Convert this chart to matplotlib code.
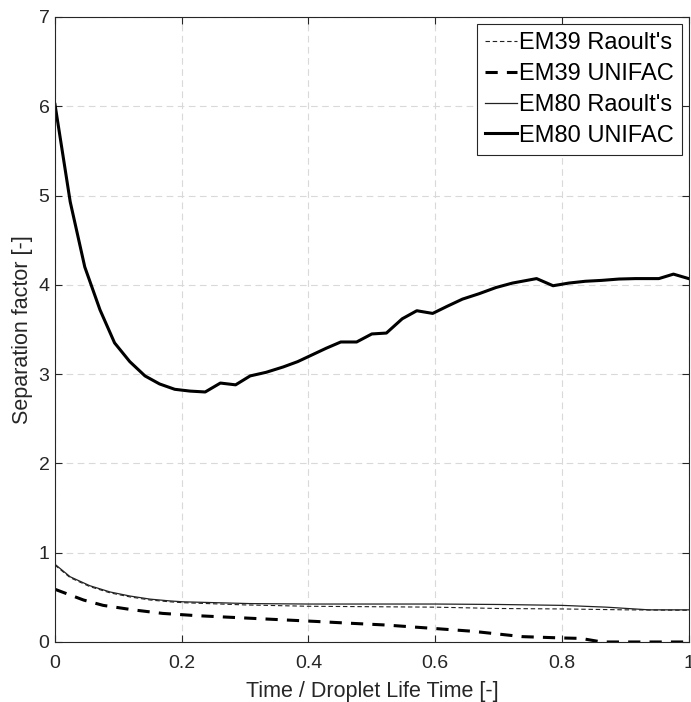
import matplotlib
matplotlib.use("Agg")
import matplotlib.pyplot as plt

plt.rcParams['font.family'] = ['Liberation Sans', 'DejaVu Sans']

# EM80 UNIFAC (thick solid)
t_em80_uni = [0.0, 0.024, 0.047, 0.071, 0.094, 0.118, 0.142, 0.165, 0.189, 0.213,
              0.237, 0.261, 0.285, 0.308, 0.333, 0.36, 0.383, 0.428, 0.451, 0.476,
              0.500, 0.523, 0.548, 0.571, 0.596, 0.619, 0.643, 0.669, 0.696, 0.722,
              0.760, 0.786, 0.811, 0.837, 0.863, 0.890, 0.916, 0.953, 0.976, 1.0]
s_em80_uni = [6.02, 4.93, 4.20, 3.72, 3.35, 3.14, 2.98, 2.89, 2.83, 2.81,
              2.80, 2.90, 2.88, 2.98, 3.02, 3.08, 3.14, 3.29, 3.36, 3.36,
              3.45, 3.46, 3.62, 3.71, 3.68, 3.76, 3.84, 3.90, 3.97, 4.02,
              4.07, 3.99, 4.02, 4.04, 4.05, 4.065, 4.07, 4.07, 4.12, 4.07]

# EM80 Raoult's (thin solid)
t_em80_rao = [0.0, 0.024, 0.055, 0.087, 0.118, 0.15, 0.181, 0.202, 0.307, 0.4,
              0.5, 0.6, 0.7, 0.8, 0.87, 0.937, 1.0]
s_em80_rao = [0.87, 0.73, 0.63, 0.56, 0.515, 0.48, 0.46, 0.45, 0.43, 0.425,
              0.425, 0.425, 0.42, 0.41, 0.39, 0.36, 0.36]

# EM39 Raoult's (thin dashed)
t_em39_rao = [0.0, 0.024, 0.055, 0.087, 0.118, 0.15, 0.181, 0.202, 0.3, 0.4,
              0.5, 0.6, 0.7, 0.8, 0.9, 1.0]
s_em39_rao = [0.86, 0.72, 0.62, 0.55, 0.505, 0.47, 0.45, 0.44, 0.415, 0.40,
              0.395, 0.39, 0.375, 0.37, 0.36, 0.355]

# EM39 UNIFAC (thick dashed)
t_em39_uni = [0.0, 0.045, 0.076, 0.123, 0.17, 0.223, 0.296, 0.412, 0.465, 0.522,
              0.595, 0.659, 0.737, 0.80, 0.83, 0.863, 0.9, 1.0]
s_em39_uni = [0.59, 0.47, 0.41, 0.36, 0.32, 0.295, 0.27, 0.23, 0.21, 0.19,
              0.153, 0.12, 0.06, 0.045, 0.04, 0.0, 0.0, 0.0]

fig = plt.figure(figsize=(6.91, 7.02), dpi=100)
ax = fig.add_axes([0.0796, 0.0855, 0.917, 0.8903])

ax.plot(t_em39_rao, s_em39_rao, color='#222222', lw=0.8, ls=(0, (4, 2.5)), label="EM39 Raoult's")
ax.plot(t_em39_uni, s_em39_uni, color='black', lw=2.2, ls=(0, (4, 3)), label="EM39 UNIFAC")
ax.plot(t_em80_rao, s_em80_rao, color='#222222', lw=0.9, label="EM80 Raoult's")
ax.plot(t_em80_uni, s_em80_uni, color='black', lw=2.2, label="EM80 UNIFAC")

ax.set_xlim(0, 1)
ax.set_ylim(0, 7)
ax.set_xticks([0, 0.2, 0.4, 0.6, 0.8, 1])
ax.set_xticklabels(['0', '0.2', '0.4', '0.6', '0.8', '1'])
ax.set_yticks(range(8))
ax.grid(True, ls=(0, (6, 4)), color='#d9d9d9', lw=0.8)
ax.tick_params(direction='in', top=True, right=True, labelsize=14,
               colors='#262626', length=5, width=0.8)
ax.tick_params(axis='x', pad=9.5)
ax.tick_params(axis='y', pad=4)
for sp in ax.spines.values():
    sp.set_color('#262626')
    sp.set_linewidth(0.8)

ax.set_xlabel("Time / Droplet Life Time [-]", fontsize=15.5, color='#262626', labelpad=6)
ax.set_ylabel("Separation factor [-]", fontsize=15.5, color='#262626', labelpad=4)

leg = ax.legend(loc='upper right', fontsize=17, handlelength=1.35, handletextpad=0.05,
                borderpad=0.35, labelspacing=0.37, fancybox=False, framealpha=1,
                borderaxespad=0.3)
leg.get_frame().set_edgecolor('#262626')
leg.get_frame().set_linewidth(0.8)

fig.savefig("out.png", dpi=100)
